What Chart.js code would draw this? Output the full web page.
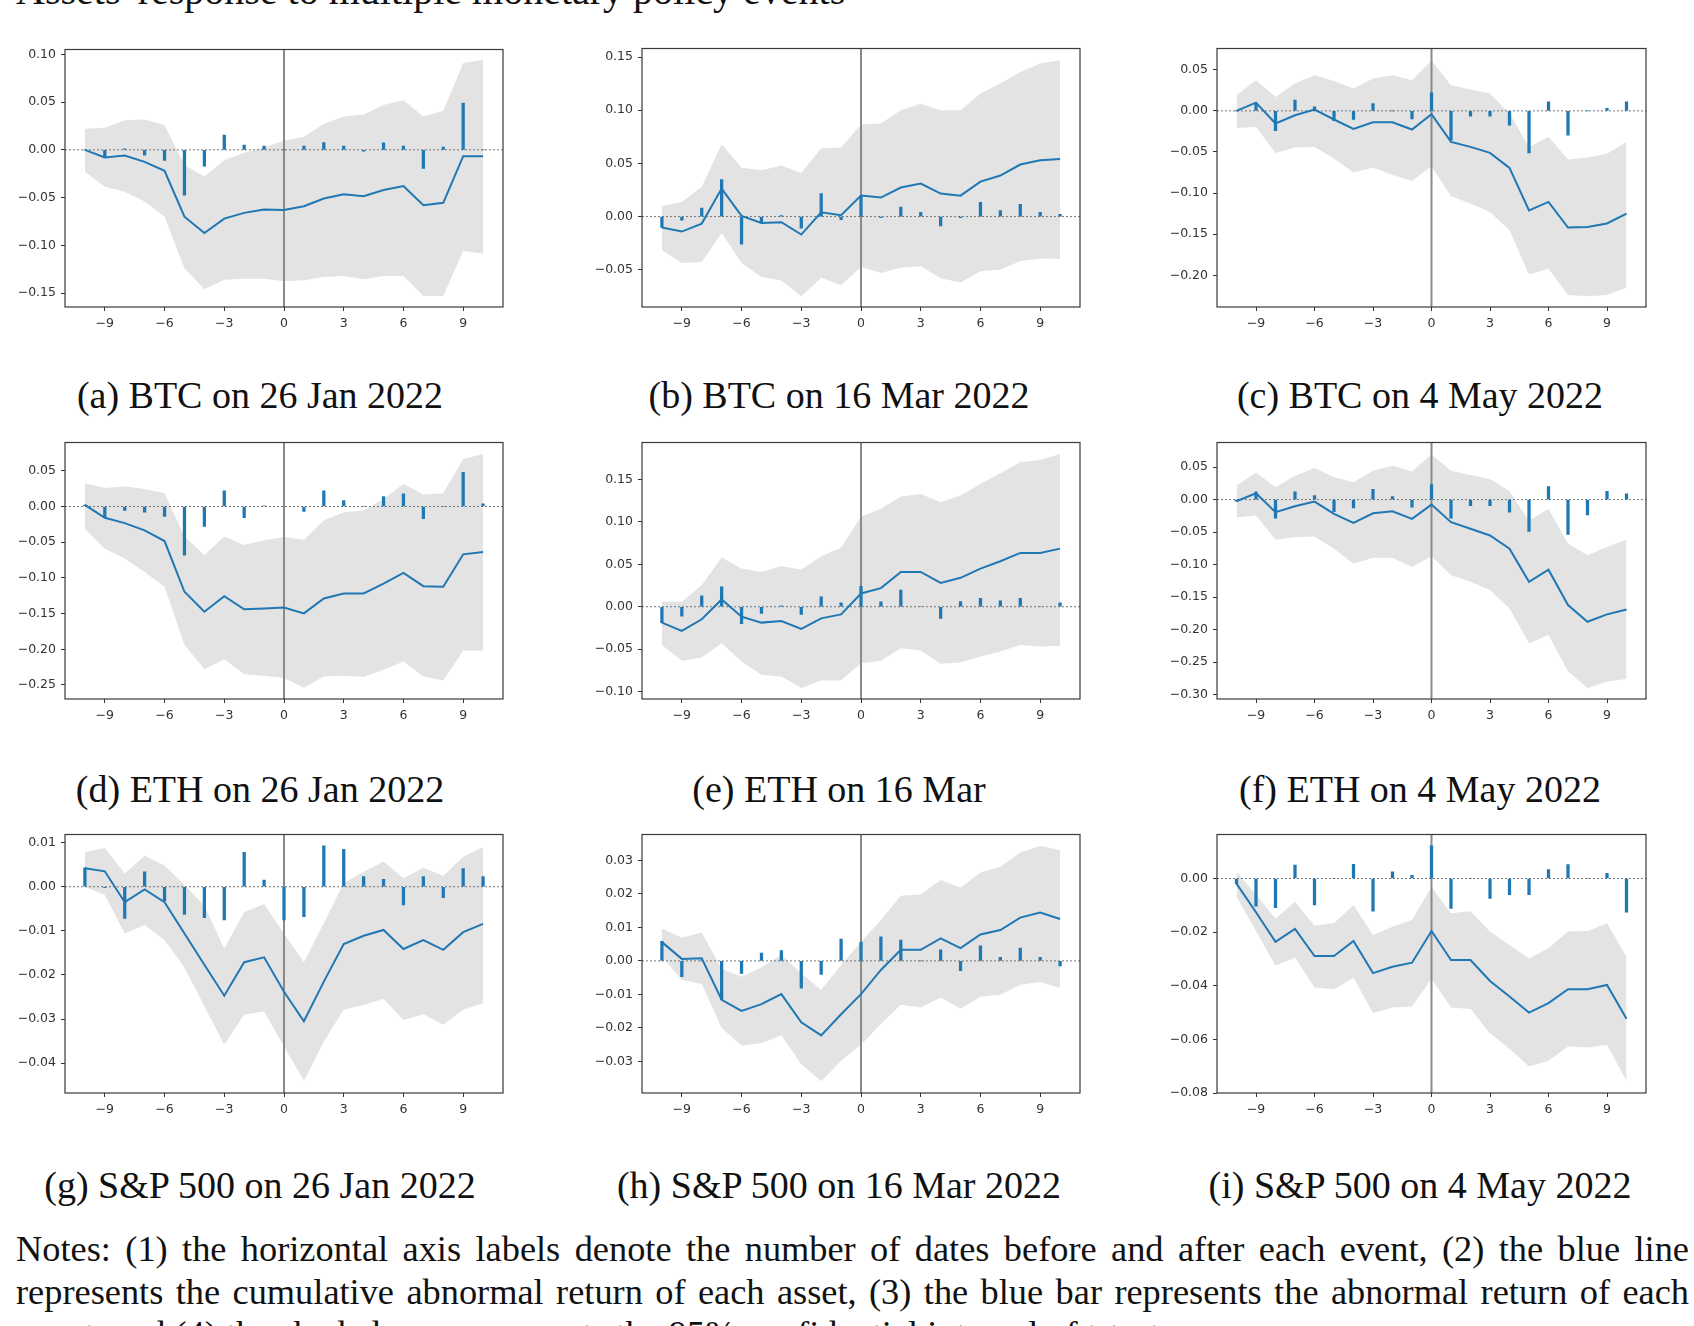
<!DOCTYPE html>
<html>
<head>
<meta charset="utf-8">
<script src="https://cdn.jsdelivr.net/npm/chart.js@4.4.1/dist/chart.umd.min.js"></script>
<style>
body { margin: 0; background: #fff; width: 1694px; height: 1326px; overflow: hidden; position: relative; font-family: 'Liberation Serif', serif; color: #111; }
.box { position: absolute; }
.cap { position: absolute; width: 600px; text-align: center; font-size: 38px; line-height: 40px; white-space: nowrap; }
#title { position: absolute; left: 16px; top: -29px; font-size: 40px; line-height: 40px; white-space: nowrap; }
.note { position: absolute; left: 16px; width: 1673px; font-size: 34px; line-height: 40px; text-align: justify; text-align-last: justify; }
.note.last { text-align: left; text-align-last: left; }
</style>
</head>
<body>
<div id="title">Assets' response to multiple monetary policy events</div>
<div id="wrap"></div>
<div class="note" style="top:1229px">Notes: (1) the horizontal axis labels denote the number of dates before and after each event, (2) the blue line</div>
<div class="note" style="top:1272px">represents the cumulative abnormal return of each asset, (3) the blue bar represents the abnormal return of each</div>
<div class="note last" style="top:1314px">event, and (4) the shaded area represents the 95% confidential interval of t-tests.</div>
<script>
const days = [-10, -9, -8, -7, -6, -5, -4, -3, -2, -1, 0, 1, 2, 3, 4, 5, 6, 7, 8, 9, 10];
const xTicks = [-9, -6, -3, 0, 3, 6, 9];

// (a) BTC 26 Jan 2022
const btcJanCar = [0.000, -0.008, -0.006, -0.0126, -0.022, -0.070, -0.087, -0.072, -0.066, -0.0625, -0.063, -0.059, -0.051, -0.0464, -0.0485, -0.042, -0.038, -0.058, -0.0555, -0.0066, -0.0066];
const btcJanAr = [0.000, -0.008, 0.001, -0.0056, -0.011, -0.0475, -0.017, 0.0154, 0.005, 0.004, 0.000, 0.004, 0.0077, 0.004, -0.0014, 0.0073, 0.004, -0.0195, 0.003, 0.049, 0.000];
const btcJanUp = [0.022, 0.023, 0.031, 0.0318, 0.0258, -0.016, -0.028, -0.011, -0.003, 0.0024, 0.0094, 0.0136, 0.027, 0.035, 0.037, 0.0468, 0.052, 0.035, 0.041, 0.091, 0.094];
const btcJanLo = [-0.023, -0.0387, -0.044, -0.054, -0.070, -0.124, -0.146, -0.136, -0.135, -0.135, -0.1375, -0.1365, -0.133, -0.132, -0.1355, -0.132, -0.132, -0.153, -0.153, -0.106, -0.1085];
const btcJanTicks = [-0.15, -0.10, -0.05, 0, 0.05, 0.10];

// (b) BTC 16 Mar 2022
const btcMarCar = [-0.0103, -0.0141, -0.0066, 0.0263, 0.0006, -0.006, -0.0053, -0.0169, 0.004, 0.0013, 0.0197, 0.0179, 0.0273, 0.031, 0.0216, 0.0197, 0.0329, 0.0386, 0.0489, 0.053, 0.0542];
const btcMarAr = [-0.0103, -0.0034, 0.008, 0.0348, -0.026, -0.006, 0.001, -0.011, 0.0216, -0.003, 0.019, -0.001, 0.009, 0.004, -0.0088, -0.001, 0.0135, 0.0056, 0.0116, 0.004, 0.002];
const btcMarUp = [0.010, 0.0138, 0.028, 0.068, 0.046, 0.0436, 0.048, 0.041, 0.064, 0.065, 0.0865, 0.0875, 0.100, 0.106, 0.100, 0.100, 0.1157, 0.125, 0.136, 0.144, 0.147];
const btcMarLo = [-0.0317, -0.0436, -0.0426, -0.0154, -0.0436, -0.0567, -0.060, -0.075, -0.0574, -0.0646, -0.0473, -0.053, -0.048, -0.0467, -0.058, -0.062, -0.0514, -0.050, -0.0417, -0.0395, -0.0398];
const btcMarTicks = [-0.05, 0, 0.05, 0.10, 0.15];

// (c) BTC 4 May 2022
const btcMayCar = [0, 0.010, -0.0154, -0.0053, 0.0016, -0.0105, -0.0219, -0.0138, -0.0138, -0.0227, -0.004, -0.0377, -0.0438, -0.0511, -0.0694, -0.121, -0.1108, -0.142, -0.1412, -0.137, -0.125];
const btcMayAr = [0, 0.009, -0.024, 0.013, 0.005, -0.012, -0.0105, 0.009, 0, -0.0097, 0.022, -0.0357, -0.0065, -0.0065, -0.0175, -0.051, 0.011, -0.0296, 0, 0.003, 0.011];
const btcMayUp = [0.019, 0.0373, 0.017, 0.0333, 0.0434, 0.0365, 0.0272, 0.0394, 0.0434, 0.0373, 0.0609, 0.0312, 0.026, 0.021, -0.003, -0.044, -0.0316, -0.059, -0.0568, -0.052, -0.0377];
const btcMayLo = [-0.0207, -0.0195, -0.0511, -0.0446, -0.0438, -0.058, -0.075, -0.069, -0.078, -0.0852, -0.0673, -0.104, -0.1128, -0.1229, -0.1452, -0.199, -0.192, -0.224, -0.2256, -0.224, -0.215];
const btcMayTicks = [-0.20, -0.15, -0.10, -0.05, 0, 0.05];

// (d) ETH 26 Jan 2022
const ethJanCar = [0.0023, -0.0158, -0.0233, -0.0335, -0.0484, -0.1195, -0.1474, -0.1256, -0.144, -0.1428, -0.1414, -0.1497, -0.1288, -0.1218, -0.1218, -0.108, -0.093, -0.1116, -0.1125, -0.067, -0.0637];
const ethJanAr = [0.002, -0.015, -0.0056, -0.008, -0.014, -0.068, -0.028, 0.022, -0.0158, 0.001, 0, -0.007, 0.022, 0.0084, 0, 0.014, 0.0177, -0.0172, 0, 0.048, 0.0037];
const ethJanUp = [0.0326, 0.026, 0.028, 0.0247, 0.0186, -0.0419, -0.068, -0.042, -0.054, -0.0474, -0.0428, -0.0465, -0.0195, -0.0079, -0.0056, 0.0107, 0.0316, 0.0167, 0.0186, 0.0665, 0.0735];
const ethJanLo = [-0.0312, -0.059, -0.073, -0.0916, -0.1125, -0.194, -0.228, -0.214, -0.235, -0.237, -0.2404, -0.254, -0.238, -0.237, -0.239, -0.2288, -0.217, -0.238, -0.2437, -0.2018, -0.2018];
const ethJanTicks = [-0.25, -0.20, -0.15, -0.10, -0.05, 0, 0.05];

// (e) ETH 16 Mar
const ethMarCar = [-0.0187, -0.0285, -0.0148, 0.0086, -0.0117, -0.0187, -0.0168, -0.0262, -0.0137, -0.009, 0.0156, 0.0219, 0.041, 0.041, 0.0281, 0.034, 0.0449, 0.0535, 0.0633, 0.0633, 0.0684];
const ethMarAr = [-0.0187, -0.011, 0.0129, 0.0234, -0.020, -0.0078, 0.001, -0.009, 0.0117, 0.0047, 0.024, 0.0059, 0.0195, 0, -0.0137, 0.006, 0.0098, 0.007, 0.0098, 0, 0.0047];
const ethMarUp = [0.0059, 0.0059, 0.0254, 0.0578, 0.0449, 0.041, 0.0477, 0.0437, 0.0594, 0.0695, 0.1062, 0.1152, 0.1297, 0.1328, 0.123, 0.1309, 0.1445, 0.157, 0.170, 0.1727, 0.1797];
const ethMarLo = [-0.0449, -0.0637, -0.0598, -0.043, -0.0645, -0.080, -0.082, -0.0957, -0.0867, -0.0867, -0.0664, -0.0637, -0.0488, -0.0516, -0.0672, -0.0656, -0.0586, -0.0527, -0.0449, -0.0469, -0.046];
const ethMarTicks = [-0.10, -0.05, 0, 0.05, 0.10, 0.15];

// (f) ETH 4 May 2022
const ethMayCar = [-0.0026, 0.0097, -0.0194, -0.0102, -0.0031, -0.022, -0.0357, -0.021, -0.0179, -0.0296, -0.0077, -0.0347, -0.0449, -0.0551, -0.0755, -0.1265, -0.1077, -0.1622, -0.1878, -0.1765, -0.169];
const ethMayAr = [-0.0026, 0.012, -0.0286, 0.012, 0.006, -0.0184, -0.0128, 0.0158, 0.0046, -0.0117, 0.023, -0.0286, -0.0092, -0.0092, -0.0194, -0.049, 0.0199, -0.0536, -0.0235, 0.0128, 0.0087];
const ethMayUp = [0.0214, 0.0418, 0.0189, 0.0367, 0.0485, 0.0342, 0.0265, 0.0444, 0.052, 0.0434, 0.0699, 0.0444, 0.0378, 0.0316, 0.0128, -0.0321, -0.0143, -0.0679, -0.0857, -0.073, -0.0617];
const ethMayLo = [-0.027, -0.0245, -0.0617, -0.0577, -0.0566, -0.0755, -0.0985, -0.0893, -0.0893, -0.1036, -0.0872, -0.1163, -0.1265, -0.139, -0.1673, -0.221, -0.208, -0.264, -0.290, -0.2796, -0.276];
const ethMayTicks = [-0.30, -0.25, -0.20, -0.15, -0.10, -0.05, 0, 0.05];

// (g) S&P 500 26 Jan 2022
const spJanCar = [0.0042, 0.0035, -0.0035, -0.0006, -0.0035, -0.0106, -0.0177, -0.0247, -0.0171, -0.016, -0.0238, -0.0305, -0.0215, -0.013, -0.0111, -0.0098, -0.0141, -0.0121, -0.0143, -0.0103, -0.0084];
const spJanAr = [0.0043, -0.0002, -0.0072, 0.0034, -0.0032, -0.0063, -0.007, -0.0075, 0.0078, 0.0015, -0.0075, -0.0068, 0.0093, 0.0085, 0.0023, 0.0017, -0.0041, 0.0023, -0.0025, 0.0041, 0.0023];
const spJanUp = [0.0079, 0.0088, 0.003, 0.007, 0.0048, 0.0004, -0.0043, -0.014, -0.0058, -0.0039, -0.0106, -0.0171, -0.0083, 0.0008, 0.0034, 0.0057, 0.0019, 0.0043, 0.0025, 0.0068, 0.009];
const spJanLo = [0, -0.0019, -0.0106, -0.0087, -0.0121, -0.0183, -0.0271, -0.0358, -0.029, -0.0283, -0.0362, -0.044, -0.0351, -0.0279, -0.0268, -0.0254, -0.0302, -0.0289, -0.0313, -0.0279, -0.0264];
const spJanTicks = [-0.04, -0.03, -0.02, -0.01, 0, 0.01];

// (h) S&P 500 16 Mar 2022
const spMarCar = [0.0056, 0.0006, 0.0008, -0.0116, -0.0149, -0.0129, -0.0099, -0.0183, -0.0222, -0.0159, -0.0099, -0.0027, 0.0033, 0.0033, 0.0067, 0.0038, 0.0079, 0.0092, 0.0129, 0.0144, 0.0125];
const spMarAr = [0.0058, -0.0047, 0, -0.0116, -0.0037, 0.0023, 0.0031, -0.0081, -0.004, 0.0065, 0.0056, 0.0072, 0.0062, 0, 0.0033, -0.0029, 0.0045, 0.0011, 0.0038, 0.0011, -0.0015];
const spMarUp = [0.0097, 0.0069, 0.0085, -0.0024, -0.0047, -0.002, 0.0018, -0.0037, -0.0086, -0.0012, 0.0056, 0.0122, 0.0194, 0.0198, 0.0241, 0.0218, 0.0264, 0.0281, 0.0323, 0.0343, 0.033];
const spMarLo = [0.0013, -0.0057, -0.0069, -0.020, -0.0252, -0.0245, -0.0222, -0.0308, -0.0359, -0.0298, -0.025, -0.0188, -0.0131, -0.0139, -0.0109, -0.0143, -0.0106, -0.0101, -0.0071, -0.0063, -0.0081];
const spMarTicks = [-0.03, -0.02, -0.01, 0, 0.01, 0.02, 0.03];

// (i) S&P 500 4 May 2022
const spMayCar = [-0.0019, -0.0126, -0.0236, -0.0188, -0.0289, -0.0289, -0.0233, -0.0353, -0.0329, -0.0314, -0.0196, -0.0304, -0.0304, -0.0382, -0.044, -0.050, -0.0465, -0.0413, -0.0413, -0.0397, -0.0523];
const spMayAr = [-0.0019, -0.0103, -0.0109, 0.005, -0.0099, 0, 0.0053, -0.0122, 0.0025, 0.0012, 0.0122, -0.0112, 0, -0.0074, -0.006, -0.006, 0.0033, 0.0052, 0, 0.0019, -0.0126];
const spMayUp = [0.0025, -0.006, -0.0149, -0.0087, -0.0176, -0.0167, -0.0099, -0.0211, -0.018, -0.0155, -0.0031, -0.013, -0.0122, -0.0198, -0.0248, -0.0298, -0.026, -0.0198, -0.0196, -0.0167, -0.0291];
const spMayLo = [-0.0068, -0.0196, -0.0325, -0.0295, -0.0407, -0.0413, -0.037, -0.0502, -0.0481, -0.0477, -0.0374, -0.0481, -0.0487, -0.0577, -0.0635, -0.0701, -0.068, -0.0627, -0.063, -0.062, -0.0754];
const spMayTicks = [-0.08, -0.06, -0.04, -0.02, 0];

const panels = [
  { cap: '(a) BTC on 26 Jan 2022', car: btcJanCar, ar: btcJanAr, up: btcJanUp, lo: btcJanLo, ticks: btcJanTicks, ymin: -0.1645, ymax: 0.105, left: 65, top: 49, w: 438, h: 258, cx: 260, cy: 395 },
  { cap: '(b) BTC on 16 Mar 2022', car: btcMarCar, ar: btcMarAr, up: btcMarUp, lo: btcMarLo, ticks: btcMarTicks, ymin: -0.085, ymax: 0.158, left: 642, top: 48, w: 438, h: 259, cx: 839, cy: 395 },
  { cap: '(c) BTC on 4 May 2022', car: btcMayCar, ar: btcMayAr, up: btcMayUp, lo: btcMayLo, ticks: btcMayTicks, ymin: -0.2386, ymax: 0.0759, left: 1217, top: 48, w: 429, h: 259, cx: 1420, cy: 395 },
  { cap: '(d) ETH on 26 Jan 2022', car: ethJanCar, ar: ethJanAr, up: ethJanUp, lo: ethJanLo, ticks: ethJanTicks, ymin: -0.2697, ymax: 0.0897, left: 65, top: 442, w: 438, h: 257, cx: 260, cy: 789 },
  { cap: '(e) ETH on 16 Mar', car: ethMarCar, ar: ethMarAr, up: ethMarUp, lo: ethMarLo, ticks: ethMarTicks, ymin: -0.1086, ymax: 0.1933, left: 642, top: 442, w: 438, h: 257, cx: 839, cy: 789 },
  { cap: '(f) ETH on 4 May 2022', car: ethMayCar, ar: ethMayAr, up: ethMayUp, lo: ethMayLo, ticks: ethMayTicks, ymin: -0.3066, ymax: 0.0878, left: 1217, top: 442, w: 429, h: 257, cx: 1420, cy: 789 },
  { cap: '(g) S&P 500 on 26 Jan 2022', car: spJanCar, ar: spJanAr, up: spJanUp, lo: spJanLo, ticks: spJanTicks, ymin: -0.04675, ymax: 0.01184, left: 65, top: 834, w: 438, h: 259, cx: 260, cy: 1185 },
  { cap: '(h) S&P 500 on 16 Mar 2022', car: spMarCar, ar: spMarAr, up: spMarUp, lo: spMarLo, ticks: spMarTicks, ymin: -0.0394, ymax: 0.0377, left: 642, top: 834, w: 438, h: 259, cx: 839, cy: 1185 },
  { cap: '(i) S&P 500 on 4 May 2022', car: spMayCar, ar: spMayAr, up: spMayUp, lo: spMayLo, ticks: spMayTicks, ymin: -0.080, ymax: 0.0164, left: 1217, top: 834, w: 429, h: 259, cx: 1420, cy: 1185 }
];

const PADL = 62, PADT = 12, PADR = 10, PADB = 30;
const minus = s => s.replace('-', '\u2212');

// notes: size the font so the unjustified last line has the width it has in the figure
(function fitNotes() {
  const notes = document.querySelectorAll('.note');
  const probe = document.createElement('span');
  probe.style.cssText = 'position:absolute;visibility:hidden;white-space:nowrap;font-family:"Liberation Serif";font-size:34px';
  document.body.appendChild(probe);
  const widths = [...notes].map(n => { probe.textContent = n.textContent; return probe.getBoundingClientRect().width; });
  probe.remove();
  const size = Math.min(34 * 1167 / widths[2], 34 * 1660 / widths[0], 34 * 1660 / widths[1]);
  notes.forEach(n => { n.style.fontSize = size + 'px'; });
})();

// zero lines go on top of the band, the frame goes over everything
const framePlugin = {
  id: 'frame',
  afterDatasetDraw(chart, args) {
    if (args.index !== 1) return;
    const { ctx, chartArea: a, scales: { x, y } } = chart;
    const x0 = x.getPixelForValue(0), y0 = y.getPixelForValue(0);
    ctx.save();
    ctx.strokeStyle = '#8a8a8a';
    ctx.lineWidth = 2;
    ctx.beginPath(); ctx.moveTo(x0, a.top); ctx.lineTo(x0, a.bottom); ctx.stroke();
    ctx.strokeStyle = '#777';
    ctx.lineWidth = 1;
    ctx.setLineDash([2, 2]);
    ctx.beginPath(); ctx.moveTo(a.left, y0); ctx.lineTo(a.right, y0); ctx.stroke();
    ctx.restore();
  },
  afterDraw(chart) {
    const { ctx, chartArea: a } = chart;
    ctx.save();
    ctx.strokeStyle = '#3a3a3a';
    ctx.lineWidth = 1.2;
    ctx.strokeRect(a.left, a.top, a.right - a.left, a.bottom - a.top);
    ctx.restore();
  }
};

Chart.defaults.font.family = 'DejaVu Sans';
Chart.defaults.font.size = 12.5;
Chart.defaults.color = '#333';

const wrap = document.getElementById('wrap');
panels.forEach(p => {
  const W = p.w + PADL + PADR, H = p.h + PADT + PADB;
  const box = document.createElement('div');
  box.className = 'box';
  box.style.left = (p.left - PADL) + 'px';
  box.style.top = (p.top - PADT) + 'px';
  const cv = document.createElement('canvas');
  cv.width = W; cv.height = H;
  cv.style.width = W + 'px'; cv.style.height = H + 'px';
  box.appendChild(cv);
  wrap.appendChild(box);

  const cap = document.createElement('div');
  cap.className = 'cap';
  cap.textContent = p.cap;
  cap.style.left = (p.cx - 300) + 'px';
  cap.style.top = (p.cy - 20) + 'px';
  document.body.appendChild(cap);

  const pts = arr => days.map((d, i) => ({ x: d, y: arr[i] }));

  new Chart(cv.getContext('2d'), {
    type: 'line',
    data: {
      datasets: [
        { data: pts(p.up), borderWidth: 0, pointRadius: 0, fill: false, order: 4 },
        { data: pts(p.lo), borderWidth: 0, pointRadius: 0, fill: '-1', backgroundColor: '#e3e3e3', order: 3 },
        { type: 'bar', data: pts(p.ar), backgroundColor: '#1f77b4', barThickness: 2.6, order: 2 },
        { data: pts(p.car), borderColor: '#1f77b4', borderWidth: 2, pointRadius: 0, tension: 0, fill: false, order: 1 }
      ]
    },
    options: {
      responsive: false,
      animation: false,
      devicePixelRatio: 1,
      events: [],
      layout: { padding: { top: PADT, right: PADR, left: 0, bottom: 0 } },
      plugins: { legend: { display: false }, tooltip: { enabled: false }, filler: { propagate: false } },
      scales: {
        x: {
          type: 'linear', min: -11, max: 11, offset: false,
          afterBuildTicks: ax => { ax.ticks = xTicks.map(v => ({ value: v })); },
          afterFit: ax => { ax.height = PADB; },
          ticks: { callback: v => minus(String(v)), padding: 5, maxRotation: 0, autoSkip: false },
          grid: { display: true, drawOnChartArea: false, drawTicks: true, tickLength: 4, color: '#333', offset: false },
          border: { display: false }
        },
        y: {
          type: 'linear', min: p.ymin, max: p.ymax,
          afterBuildTicks: ax => { ax.ticks = p.ticks.map(v => ({ value: v })); },
          afterFit: ax => { ax.width = PADL; },
          ticks: { callback: v => minus(v.toFixed(2)), padding: 5, autoSkip: false },
          grid: { display: true, drawOnChartArea: false, drawTicks: true, tickLength: 4, color: '#333' },
          border: { display: false }
        }
      }
    },
    plugins: [framePlugin]
  });
});
</script>
</body>
</html>
